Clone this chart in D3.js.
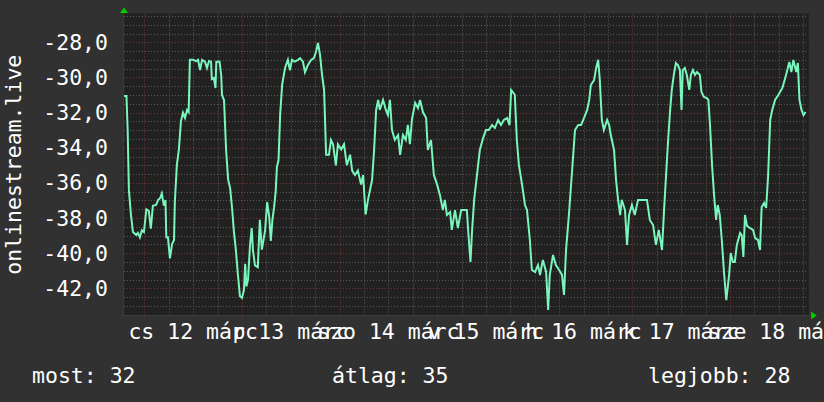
<!DOCTYPE html>
<html>
<head>
<meta charset="utf-8">
<script src="https://cdn.jsdelivr.net/npm/d3@7"></script>
<style>
html,body{margin:0;padding:0;background:#313131;}
svg{display:block;}
text{font-family:"DejaVu Sans Mono",monospace;fill:#ffffff;}
</style>
</head>
<body>
<svg id="chart" width="824" height="402"></svg>
<script>
// ---- data ----
const startTime = new Date(2020, 2, 11, 19, 0);   // left edge of the plot
const endTime   = new Date(2020, 2, 18, 19, 0);   // right edge of the plot
const yTitle = "onlinestream.live";
const dayLabels = ["cs 12 márc","p 13 márc","szo 14 márc","v 15 márc","h 16 márc","k 17 márc","sze 18 márc"];
const dayDates = ["2020-03-12","2020-03-13","2020-03-14","2020-03-15","2020-03-16","2020-03-17","2020-03-18"];
const yTickValues = [-28,-30,-32,-34,-36,-38,-40,-42];
const legendItems = ["most: 32","átlag: 35","legjobb: 28"];
// hours after startTime
const hours = [0,0.6,0.9,1.2,1.7,2.2,3.0,3.4,3.9,4.4,4.9,5.5,6.1,6.6,7.1,7.9,8.4,8.9,9.3,9.8,10.2,10.4,10.8,11.3,11.8,12.3,12.5,13.0,13.5,14.0,14.5,15.0,15.5,15.9,16.2,17.0,17.7,18.2,18.7,19.2,19.9,20.4,20.9,21.4,21.6,22.1,22.5,22.7,23.5,23.9,24.1,24.6,25.1,25.6,26.1,26.6,27.0,27.5,28.0,28.5,29.0,29.5,29.8,30.1,30.5,31.0,31.4,31.7,32.2,32.9,33.4,33.9,34.7,35.2,35.7,36.1,36.5,36.9,37.3,37.6,38.0,38.4,38.9,39.6,40.3,40.8,41.3,42.0,42.8,43.3,44.0,44.5,45.2,46.0,46.7,47.2,47.7,48.2,48.7,49.2,49.7,50.4,50.9,51.4,52.1,52.6,53.4,54.1,54.8,55.6,56.1,56.8,57.5,58.3,58.8,59.4,60.0,60.5,61.0,61.5,62.0,62.5,62.9,63.7,64.4,64.9,65.4,65.9,66.6,67.4,67.9,68.6,69.3,69.8,70.3,70.8,71.6,72.3,72.8,73.5,74.3,74.7,75.5,76.2,77.0,77.7,78.4,78.9,79.4,80.2,80.6,81.4,82.1,82.9,83.6,84.3,84.8,85.2,85.6,86.1,86.8,87.5,88.3,89.0,89.7,90.5,91.2,92.0,92.7,93.4,94.2,94.8,95.2,95.6,96.1,96.6,97.1,97.9,98.6,99.1,99.8,100.3,101.1,101.8,102.3,103.0,103.8,104.3,104.7,105.5,106.2,107.0,107.7,108.2,108.7,109.4,110.2,110.9,111.7,112.4,113.1,113.9,114.4,114.8,115.6,116.1,116.6,117.0,117.5,118.0,118.8,119.3,119.7,120.5,121.0,121.5,122.0,122.4,123.2,123.7,124.2,124.9,125.6,126.4,127.1,127.8,128.6,129.3,130.1,130.8,131.5,132.3,132.8,133.3,133.8,134.3,134.7,135.2,135.7,136.2,136.7,137.1,137.4,137.9,138.4,139.0,139.4,139.9,140.4,140.9,141.6,142.0,142.6,143.3,143.7,144.1,144.6,145.1,145.6,146.0,146.5,147.0,147.5,148.1,148.8,149.2,149.7,150.2,150.7,151.5,151.9,152.3,152.7,153.2,153.9,154.7,155.2,155.9,156.4,156.8,157.4,157.9,158.4,158.9,159.4,160.1,160.9,161.9,162.8,163.6,164.1,164.6,165.3,165.7,166.1,166.6,167.1,167.6];
const values = [-31.06,-31.06,-32.99,-36.4,-37.8,-38.8,-38.97,-38.85,-39.1,-38.7,-38.8,-37.5,-37.6,-38.6,-37.3,-37.26,-36.97,-36.86,-36.6,-37.3,-36.97,-39.1,-39.1,-40.3,-39.5,-39.25,-37.1,-34.98,-34.1,-32.5,-32.0,-32.3,-31.85,-31.97,-29.0,-29.0,-29.07,-29.0,-29.58,-29.0,-29.1,-29.46,-29.06,-29.1,-30.09,-30.03,-30.6,-29.1,-29.1,-29.86,-31.0,-31.3,-34.1,-35.8,-36.3,-37.5,-38.7,-39.8,-41.2,-42.44,-42.55,-42.1,-40.6,-41.9,-41.5,-39.5,-38.57,-39.8,-40.7,-40.8,-38.1,-39.8,-38.7,-37.1,-37.9,-39.3,-38.1,-37.4,-36.5,-35.1,-34.7,-32.1,-30.4,-29.46,-29.0,-29.6,-29.0,-29.1,-29.0,-28.9,-29.1,-29.7,-29.3,-29.0,-28.9,-28.55,-28.04,-28.7,-29.86,-30.7,-34.4,-34.4,-33.56,-33.8,-35.0,-33.8,-34.1,-33.8,-35.0,-34.4,-35.3,-35.55,-35.3,-36.1,-35.55,-37.8,-36.97,-36.4,-35.84,-34.13,-31.85,-31.28,-31.85,-31.28,-31.85,-32.14,-31.28,-32.99,-33.56,-33.28,-34.41,-33.28,-33.56,-32.7,-33.8,-32.4,-31.45,-31.74,-31.28,-31.97,-32.31,-34.13,-33.56,-35.55,-36.1,-36.7,-37.55,-36.97,-37.83,-37.66,-38.68,-37.55,-38.57,-37.55,-37.55,-37.55,-39.25,-40.5,-38.68,-36.97,-35.55,-34.13,-33.45,-32.99,-32.99,-32.71,-32.88,-32.42,-32.71,-32.42,-32.31,-32.71,-30.71,-30.83,-31.0,-33.56,-34.98,-36.12,-37.26,-37.55,-39.25,-40.96,-41.07,-40.68,-41.24,-40.39,-41.07,-43.23,-41.24,-40.1,-40.68,-40.96,-41.24,-42.38,-39.82,-37.83,-35.27,-32.99,-32.71,-32.71,-32.31,-31.85,-31.28,-30.43,-30.15,-29.46,-29.0,-30.15,-32.42,-32.99,-32.42,-32.71,-33.28,-34.13,-35.84,-36.97,-37.83,-36.97,-37.55,-39.53,-37.83,-37.26,-37.83,-36.97,-36.97,-36.97,-36.97,-38.11,-38.4,-39.53,-38.68,-39.82,-37.55,-35.55,-33.56,-31.85,-30.71,-29.86,-29.18,-29.3,-29.58,-31.85,-29.58,-29.46,-29.86,-30.71,-29.86,-29.58,-29.86,-29.69,-29.86,-30.83,-31.11,-31.17,-31.28,-32.71,-34.98,-36.69,-38.11,-37.26,-37.83,-39.25,-40.96,-42.67,-41.24,-39.99,-40.5,-40.5,-39.53,-38.85,-38.97,-40.22,-37.83,-38.45,-38.57,-38.68,-39.14,-39.25,-39.82,-37.37,-37.14,-37.43,-35.55,-32.42,-31.85,-31.28,-31.0,-30.6,-29.86,-29.12,-29.69,-29.0,-29.69,-29.18,-31.28,-31.85,-32.14,-31.97];

// ---- layout ----
const W = 824, H = 402;
const plot = {left: 124, right: 807.2, top: 14.5, bottom: 315};
const yDomain = [-43.52, -26.418];

const svg = d3.select("#chart");
const x = d3.scaleTime().domain([startTime, endTime]).range([plot.left, plot.right]);
const y = d3.scaleLinear().domain(yDomain).range([plot.bottom, plot.top]);
const fmt = d3.formatLocale({decimal: ",", thousands: " ", grouping: [3], currency: ["", ""], minus: "-"}).format(".1f");

// canvas
svg.append("rect").attr("x", plot.left - 1).attr("y", plot.top - 1)
  .attr("width", 809 - plot.left + 1).attr("height", plot.bottom - plot.top + 1)
  .attr("fill", "#212121");

// minor horizontal grid (every 0.5)
const minorY = d3.range(-43.5, -26.4, 0.5).filter(v => Math.abs(v % 2) > 1e-6);
svg.append("g").selectAll("line").data(minorY).join("line")
  .attr("x1", plot.left).attr("x2", plot.right + 1)
  .attr("y1", d => Math.round(y(d)) + 0.5).attr("y2", d => Math.round(y(d)) + 0.5)
  .attr("stroke", "#5a5a5a").attr("stroke-dasharray", "1,2");
// minor vertical grid (every 6h)
const minorX = d3.timeHour.every(6).range(startTime, endTime).filter(d => d.getHours() !== 0);
svg.append("g").selectAll("line").data(minorX).join("line")
  .attr("y1", plot.top).attr("y2", plot.bottom + 2)
  .attr("x1", d => Math.round(x(d)) + 0.5).attr("x2", d => Math.round(x(d)) + 0.5)
  .attr("stroke", "#5a5a5a").attr("stroke-dasharray", "1,2");
// major grid
svg.append("g").selectAll("line").data(yTickValues).join("line")
  .attr("x1", plot.left).attr("x2", plot.right + 1)
  .attr("y1", d => Math.round(y(d)) + 0.5).attr("y2", d => Math.round(y(d)) + 0.5)
  .attr("stroke", "#7a3434").attr("stroke-dasharray", "1,2");
const majorX = d3.timeDay.range(startTime, endTime);
svg.append("g").selectAll("line").data(majorX).join("line")
  .attr("y1", plot.top).attr("y2", plot.bottom + 3)
  .attr("x1", d => Math.round(x(d)) + 0.5).attr("x2", d => Math.round(x(d)) + 0.5)
  .attr("stroke", "#7a3434").attr("stroke-dasharray", "1,2");

// axes lines
svg.append("line").attr("x1", plot.left - 2).attr("x2", plot.right + 4)
  .attr("y1", plot.bottom + 0.5).attr("y2", plot.bottom + 0.5).attr("stroke", "#3c3c3c");
svg.append("line").attr("x1", plot.left - 0.5).attr("x2", plot.left - 0.5)
  .attr("y1", plot.top - 3).attr("y2", plot.bottom + 2).attr("stroke", "#3c3c3c");

// arrows
svg.append("path").attr("d", `M${plot.left - 4},${plot.top - 1.5}L${plot.left + 4},${plot.top - 1.5}L${plot.left},${plot.top - 7}Z`).attr("fill", "#00d000");
svg.append("path").attr("d", `M${plot.right + 4},${plot.bottom - 3.5}L${plot.right + 4},${plot.bottom + 4.5}L${plot.right + 9.5},${plot.bottom + 0.5}Z`).attr("fill", "#00d000");

// data line
const pts = hours.map((h, i) => ({t: new Date(startTime.getTime() + h * 3600e3), v: values[i]}));
svg.append("path").datum(pts)
  .attr("fill", "none").attr("stroke", "#7af5bc").attr("stroke-width", 2)
  .attr("stroke-linejoin", "miter")
  .attr("d", d3.line().x(d => x(d.t)).y(d => y(d.v)));

// y tick labels
svg.append("g").selectAll("text").data(yTickValues).join("text")
  .attr("x", 108).attr("y", d => y(d) + 7.6)
  .attr("text-anchor", "end").attr("font-size", "21.5px")
  .text(d => fmt(d));

// x day labels, centred at noon
svg.append("g").selectAll("text").data(dayLabels).join("text")
  .attr("x", (d, i) => x(d3.timeHour.offset(d3.timeParse("%Y-%m-%d")(dayDates[i]), 12)))
  .attr("y", 339).attr("text-anchor", "middle").attr("font-size", "21.5px")
  .text(d => d);

// y title
svg.append("text").attr("transform", `translate(20.5,${(plot.top + plot.bottom) / 2}) rotate(-90)`)
  .attr("text-anchor", "middle").attr("font-size", "21.5px").text(yTitle);

// legend
const legendX = [32, 332, 648];
svg.append("g").selectAll("text").data(legendItems).join("text")
  .attr("x", (d, i) => legendX[i]).attr("y", 383).attr("font-size", "21.5px")
  .text(d => d);
</script>
</body>
</html>
